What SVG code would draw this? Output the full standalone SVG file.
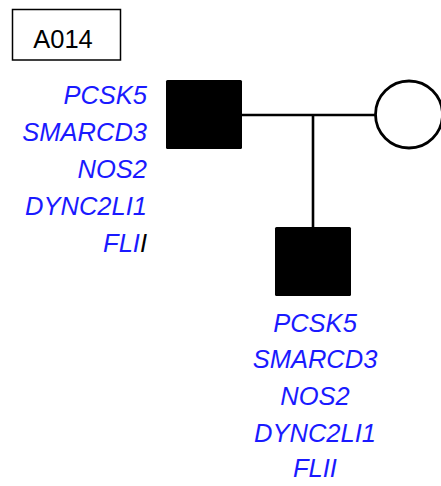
<svg xmlns="http://www.w3.org/2000/svg" width="441" height="486" viewBox="0 0 441 486">
<style>
.gene{font-family:"Liberation Sans",Arial,sans-serif;font-style:italic;font-size:25.5px;fill:#1a1aff}
.l{text-anchor:end}
.c{text-anchor:middle}
.ln{stroke:#000;stroke-width:2.6;fill:none}
</style>
<rect width="441" height="486" fill="#fff"/>
<g id="label">
<rect x="12.5" y="9.5" width="108" height="50.5" fill="#fff" stroke="#000" stroke-width="1.5"/>
<text x="63" y="48" text-anchor="middle" font-family="Liberation Sans,Arial,sans-serif" font-size="25.5" fill="#000">A014</text>
</g>
<g id="connectors">
<line class="ln" x1="242" y1="115" x2="376" y2="115"/>
<line class="ln" x1="313" y1="115" x2="313" y2="228"/>
</g>
<g id="father">
<rect x="166" y="80" width="76" height="69" rx="1.5" fill="#000"/>
<text class="gene l" x="147" y="104">PCSK5</text>
<text class="gene l" x="147" y="141">SMARCD3</text>
<text class="gene l" x="147" y="178">NOS2</text>
<text class="gene l" x="147" y="215">DYNC2LI1</text>
<text class="gene l" x="147" y="252">FLI<tspan fill="#000">I</tspan></text>
</g>
<g id="mother">
<ellipse cx="409" cy="114.5" rx="33.5" ry="33.5" fill="#fff" stroke="#000" stroke-width="2.8"/>
</g>
<g id="child">
<rect x="275" y="227" width="76" height="69" rx="1.5" fill="#000"/>
<text class="gene c" x="315" y="331.5">PCSK5</text>
<text class="gene c" x="315" y="368">SMARCD3</text>
<text class="gene c" x="315" y="405">NOS2</text>
<text class="gene c" x="315" y="441.5">DYNC2LI1</text>
<text class="gene c" x="315" y="477">FLII</text>
</g>
</svg>
